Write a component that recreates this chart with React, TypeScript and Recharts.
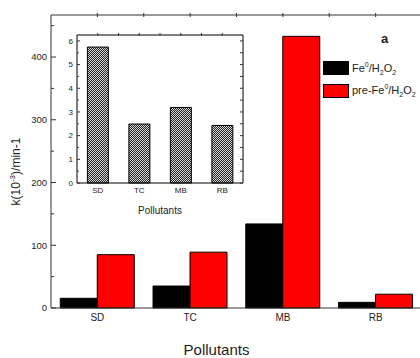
import React from "react";
import { BarChart, Bar, XAxis, YAxis, Legend } from "recharts";

const categories = ["SD", "TC", "MB", "RB"];
const feValues = [15.5, 35, 134, 9];
const preFeValues = [85, 89, 433, 22];
const insetValues = [5.74, 2.49, 3.19, 2.43];
const mainTicks = [0, 50, 100, 150, 200, 250, 300, 350, 400, 450];
const insetTicks = [0, 0.5, 1, 1.5, 2, 2.5, 3, 3.5, 4, 4.5, 5, 5.5, 6];
const halfBandTicks = [1, 2, 3, 4, 5, 6, 7];

const FONT = "'Liberation Sans', Arial, sans-serif";
const AXIS = "#333";

const mainData = categories.map((name, i) => ({ name, fe: feValues[i], pre: preFeValues[i], pos: i * 2 + 1 }));
const insetData = categories.map((name, i) => ({ name, k: insetValues[i], pos: i * 2 + 1 }));

const legendLabels = [
  <span key="fe">Fe<sup style={{ fontSize: 7 }}>0</sup>/H<sub style={{ fontSize: 7 }}>2</sub>O<sub style={{ fontSize: 7 }}>2</sub></span>,
  <span key="pre">pre-Fe<sup style={{ fontSize: 7 }}>0</sup>/H<sub style={{ fontSize: 7 }}>2</sub>O<sub style={{ fontSize: 7 }}>2</sub></span>,
];

const makeYTick = (major: number, fontSize: number, len: number, showLabel = true) => (props: any) => {
  const { x, y, payload } = props;
  const isMajor = Math.abs(payload.value % major) < 1e-6;
  return (
    <g>
      <line x1={x} x2={x + (isMajor ? len : len * 0.6)} y1={y} y2={y} stroke={AXIS} />
      {isMajor && showLabel && (
        <text x={x - 4} y={y} dy={fontSize * 0.35} textAnchor="end" fontSize={fontSize} fill="#222" fontFamily={FONT}>
          {payload.value}
        </text>
      )}
    </g>
  );
};

const makeRightTick = (len: number) => (props: any) => {
  const { x, y } = props;
  return <line x1={x} x2={x - len} y1={y} y2={y} stroke={AXIS} />;
};

const makeTopTick = (len: number) => (props: any) => {
  const { x, y } = props;
  return <line x1={x} x2={x} y1={y} y2={y + len} stroke={AXIS} />;
};

const YLabel = (props: any) => {
  const { viewBox } = props;
  const cx = viewBox.x + 16;
  const cy = viewBox.y + viewBox.height / 2 + 10;
  return (
    <text
      x={cx}
      y={cy}
      transform={`rotate(-90, ${cx}, ${cy})`}
      textAnchor="middle"
      dominantBaseline="central"
      fontSize={12}
      fill="#222"
      fontFamily={FONT}
    >
      k(10<tspan dy={-4} fontSize={8}>-3</tspan>
      <tspan dy={4}>)/min-1</tspan>
    </text>
  );
};

const XLabel = (props: any) => {
  const { viewBox } = props;
  return (
    <text
      x={viewBox.x + viewBox.width / 2 - 20}
      y={viewBox.y + viewBox.height - 3}
      textAnchor="middle"
      fontSize={15}
      fill="#222"
      fontFamily={FONT}
    >
      Pollutants
    </text>
  );
};

const LegendBox = (props: any) => {
  const { payload } = props;
  return (
    <div style={{ position: "relative", fontFamily: FONT, fontSize: 11, color: "#222" }}>
      <div style={{ position: "absolute", left: 58, top: -26, fontWeight: "bold", fontSize: 13 }}>a</div>
      {(payload || []).map((e: any, i: number) => (
        <div key={i} style={{ display: "flex", alignItems: "center", height: 22.5 }}>
          <span
            style={{
              display: "inline-block",
              width: 24,
              height: 12,
              background: e.color,
              border: "1px solid #000",
              marginRight: 3,
            }}
          />
          {legendLabels[i]}
        </div>
      ))}
    </div>
  );
};

export default function App() {
  return (
    <div
      style={{
        position: "absolute",
        left: 0,
        top: 0,
        width: 420,
        height: 358,
        overflow: "hidden",
        background: "#fff",
      }}
    >
      <BarChart
        width={424}
        height={358}
        data={mainData}
        margin={{ top: 14, right: 2, bottom: 0, left: 0 }}
        barCategoryGap="10%"
        barGap={0}
      >
        <XAxis
          dataKey="name"
          height={50}
          tickLine={false}
          tickSize={0}
          tickMargin={6}
          axisLine={{ stroke: AXIS }}
          tick={{ fontSize: 10, fill: "#222", fontFamily: FONT }}
          label={<XLabel />}
        />
        <XAxis
          xAxisId="top"
          dataKey="pos"
          orientation="top"
          type="number"
          domain={[0, 8]}
          allowDataOverflow
          ticks={halfBandTicks}
          interval={0}
          height={1}
          tickSize={0}
          tickLine={false}
          axisLine={{ stroke: AXIS }}
          tick={makeTopTick(4)}
        />
        <YAxis
          width={51}
          domain={[0, 467]}
          ticks={mainTicks}
          interval={0}
          tickSize={0}
          tickMargin={0}
          tickLine={false}
          axisLine={{ stroke: AXIS }}
          tick={makeYTick(100, 9.5, 5)}
          label={<YLabel />}
        />
        <Legend
          layout="vertical"
          verticalAlign="middle"
          align="center"
          content={<LegendBox />}
          wrapperStyle={{ position: "absolute", left: 323, top: 57, width: 100, right: "auto", bottom: "auto" }}
        />
        <Bar dataKey="fe" name="Fe0/H2O2" fill="#000" stroke="#000" isAnimationActive={false} />
        <Bar dataKey="pre" name="pre-Fe0/H2O2" fill="#ff0000" stroke="#000" isAnimationActive={false} />
      </BarChart>

      <div style={{ position: "absolute", left: 50, top: 25, width: 201, height: 195 }}>
        <BarChart
          width={201}
          height={195}
          data={insetData}
          margin={{ top: 9, right: 7, bottom: 0, left: 0 }}
          barCategoryGap="25%"
        >
          <defs>
            <pattern id="hatch" patternUnits="userSpaceOnUse" width="2" height="2">
              <rect width="2" height="2" fill="#d8d8d8" />
              <rect x="0" y="0" width="1" height="1" fill="#222" />
              <rect x="1" y="1" width="1" height="1" fill="#222" />
            </pattern>
          </defs>
          <XAxis
            dataKey="name"
            height={37}
            tickLine={false}
            tickSize={0}
            tickMargin={4}
            axisLine={{ stroke: "#000" }}
            tick={{ fontSize: 8, fill: "#222", fontFamily: FONT }}
            label={{ value: "Pollutants", position: "insideBottom", offset: 6, fontSize: 10, fill: "#222", fontFamily: FONT }}
          />
          <XAxis
            xAxisId="top"
            dataKey="pos"
            orientation="top"
            type="number"
            domain={[0, 8]}
            allowDataOverflow
            ticks={halfBandTicks}
            interval={0}
            height={1}
            tickSize={0}
            tickLine={false}
            axisLine={{ stroke: "#000" }}
            tick={makeTopTick(3)}
          />
          <YAxis
            width={27}
            domain={[0, 6.25]}
            ticks={insetTicks}
            interval={0}
            tickSize={0}
            tickMargin={0}
            tickLine={false}
            axisLine={{ stroke: "#000" }}
            tick={makeYTick(1, 8, 3)}
          />
          <YAxis
            yAxisId="right"
            orientation="right"
            width={1}
            domain={[0, 6.25]}
            allowDataOverflow
            ticks={insetTicks}
            interval={0}
            tickSize={0}
            tickMargin={0}
            tickLine={false}
            axisLine={{ stroke: "#000" }}
            tick={makeRightTick(3)}
          />
          <Bar dataKey="k" fill="url(#hatch)" stroke="#000" isAnimationActive={false} />
        </BarChart>
      </div>
    </div>
  );
}
